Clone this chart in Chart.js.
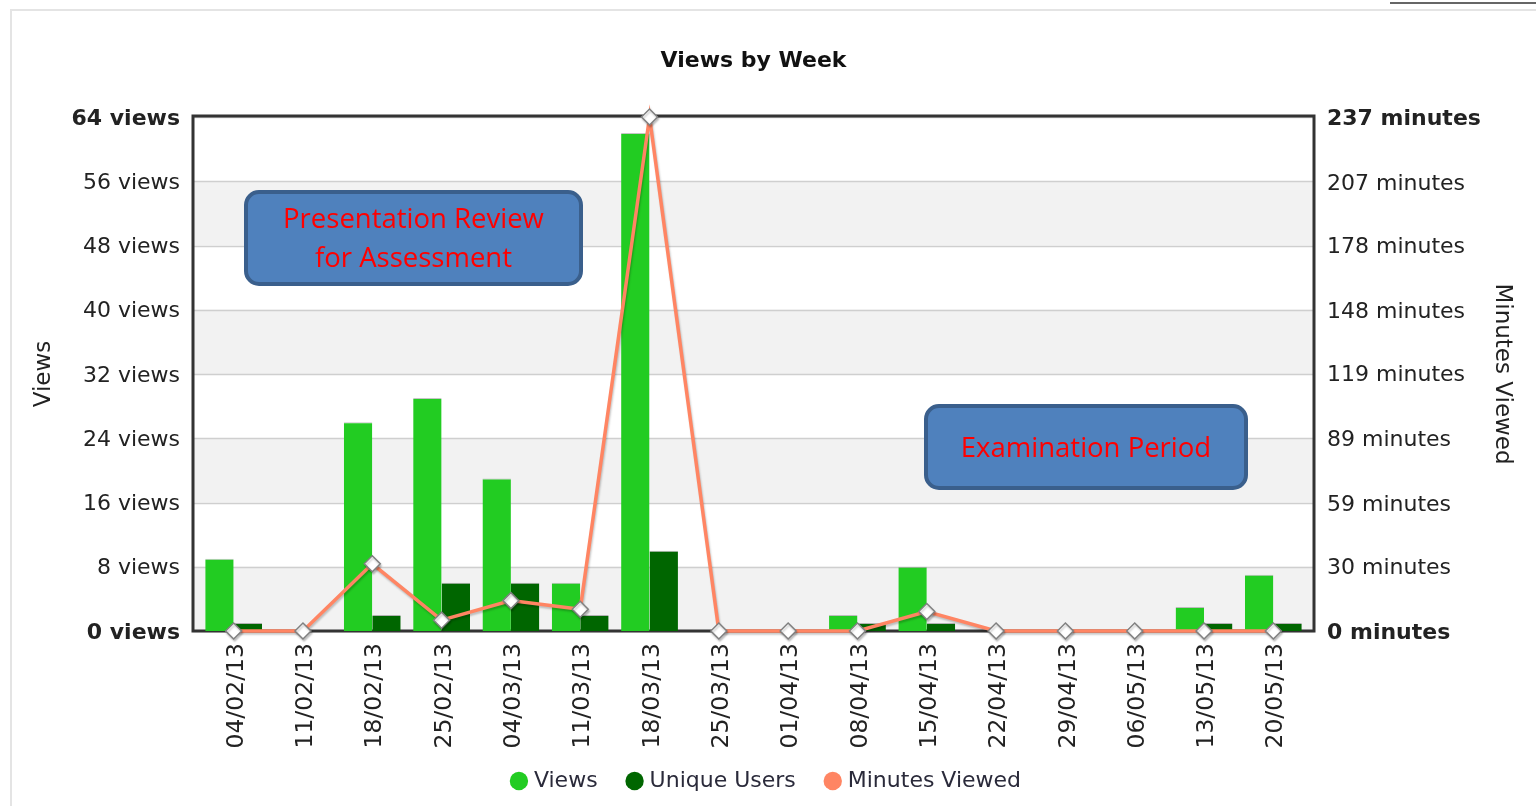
<!DOCTYPE html>
<html>
<head>
<meta charset="utf-8">
<script src="https://cdn.jsdelivr.net/npm/chart.js@4"></script>
<style>
  html, body { margin: 0; padding: 0; background: #fff; }
  #wrap { width: 1536px; height: 806px; }
</style>
</head>
<body>
<div id="wrap"><canvas id="chart"></canvas></div>
<script>
const weeks = ["04/02/13", "11/02/13", "18/02/13", "25/02/13", "04/03/13", "11/03/13", "18/03/13", "25/03/13",
               "01/04/13", "08/04/13", "15/04/13", "22/04/13", "29/04/13", "06/05/13", "13/05/13", "20/05/13"];
const views = [9, 0, 26, 29, 19, 6, 62, 0, 0, 2, 8, 0, 0, 0, 3, 7];
const uniqueUsers = [1, 0, 2, 6, 6, 2, 10, 0, 0, 1, 1, 0, 0, 0, 1, 1];
const minutesViewed = [0, 0, 31, 5, 14, 10, 237, 0, 0, 0, 9, 0, 0, 0, 0, 0];

const viewTicks = [0, 8, 16, 24, 32, 40, 48, 56, 64];
const minuteTicks = [0, 30, 59, 89, 119, 148, 178, 207, 237];

const notes = [
    { lines: ["Presentation Review", "for Assessment"], x: 246, y: 192, w: 335, h: 92 },
    { lines: ["Examination Period"], x: 926, y: 406, w: 320, h: 82 }
];

const FONT = "'DejaVu Sans', Verdana, sans-serif";
const legendColors = ["#22cc22", "#006600", "#ff8563"];

// first and last tick labels are bold
function edgeBold(ctx) {
    const bold = ctx.index === 0 || ctx.index === viewTicks.length - 1;
    return { family: FONT, size: 22, weight: bold ? "bold" : "normal" };
}

// bands, gridlines and the dark frame around the plot
const plotFrame = {
    id: "plotFrame",
    beforeDraw(chart) {
        const c = chart.ctx, a = chart.chartArea, y = chart.scales.y;
        const l = a.left - 6, r = a.right + 6;
        c.save();
        c.strokeStyle = "#e4e4e4";
        c.lineWidth = 2;
        c.beginPath();
        c.moveTo(11, 806); c.lineTo(11, 10); c.lineTo(1536, 10);
        c.stroke();
        c.strokeStyle = "#666";
        c.beginPath();
        c.moveTo(1390, 3); c.lineTo(1536, 3);
        c.stroke();
        for (let i = 0; i < viewTicks.length - 1; i++) {
            if (i % 2 === 0) {
                const y0 = y.getPixelForValue(viewTicks[i]);
                const y1 = y.getPixelForValue(viewTicks[i + 1]);
                c.fillStyle = "#f2f2f2";
                c.fillRect(l, y1, r - l, y0 - y1);
            }
        }
        c.strokeStyle = "#cfcfcf";
        c.lineWidth = 1.5;
        viewTicks.forEach(v => {
            const py = Math.round(y.getPixelForValue(v)) + 0.5;
            c.beginPath(); c.moveTo(l, py); c.lineTo(r, py); c.stroke();
        });
        c.restore();
    },
    beforeDatasetsDraw(chart) {
        const c = chart.ctx, a = chart.chartArea;
        c.save();
        c.strokeStyle = "#333";
        c.lineWidth = 3;
        c.strokeRect(a.left - 6, a.top - 1, a.right - a.left + 12, a.bottom - a.top + 1);
        c.restore();
    },
    beforeDatasetDraw(chart, args) {
        if (args.index === 2) {
            const c = chart.ctx;
            c.save();
            c.shadowColor = "rgba(0,0,0,0.22)";
            c.shadowOffsetX = 1;
            c.shadowOffsetY = 2;
            c.shadowBlur = 2;
        }
    },
    afterDatasetDraw(chart, args) {
        if (args.index === 2) chart.ctx.restore();
    },
    afterDraw(chart) {
        const c = chart.ctx;
        c.save();
        notes.forEach(n => {
            c.beginPath();
            c.roundRect(n.x, n.y, n.w, n.h, 13);
            c.fillStyle = "#4f81bd";
            c.fill();
            c.lineWidth = 4;
            c.strokeStyle = "#3a5f8c";
            c.stroke();
            c.fillStyle = "#ff0000";
            c.font = "27.5px 'Open Sans', sans-serif";
            c.textAlign = "center";
            c.textBaseline = "middle";
            const lh = 39;
            const cy = n.y + n.h / 2 + 2 - (n.lines.length - 1) * lh / 2;
            n.lines.forEach((t, i) => c.fillText(t, n.x + n.w / 2, cy + i * lh));
        });
        c.restore();
    }
};

new Chart(document.getElementById("chart"), {
    type: "bar",
    data: {
        labels: weeks,
        datasets: [
            {
                label: "Views",
                data: views,
                backgroundColor: "#22cc22",
                borderColor: "rgba(90,90,90,0.35)",
                borderWidth: { top: 1, right: 0, left: 0, bottom: 0 },
                borderSkipped: "bottom",
                categoryPercentage: 0.82,
                barPercentage: 1.0,
                yAxisID: "y"
            },
            {
                label: "Unique Users",
                data: uniqueUsers,
                backgroundColor: "#006600",
                borderColor: "rgba(60,60,60,0.35)",
                borderWidth: { top: 1, right: 0, left: 0, bottom: 0 },
                borderSkipped: "bottom",
                categoryPercentage: 0.82,
                barPercentage: 1.0,
                yAxisID: "y"
            },
            {
                type: "line",
                label: "Minutes Viewed",
                data: minutesViewed,
                yAxisID: "y1",
                order: -1,
                borderColor: "#ff8563",
                backgroundColor: "#ff8563",
                borderWidth: 3.5,
                tension: 0,
                pointStyle: "rectRot",
                pointRadius: 8,
                pointHoverRadius: 8,
                pointBackgroundColor: "#ffffff",
                pointBorderColor: "#808080",
                pointBorderWidth: 1.5,
                clip: false
            }
        ]
    },
    options: {
        responsive: true,
        maintainAspectRatio: false,
        animation: false,
        layout: { padding: { left: 0, right: 0, top: 0, bottom: 4 } },
        plugins: {
            title: {
                display: true,
                text: "Views by Week",
                fullSize: false,
                color: "#111",
                font: { family: FONT, size: 22, weight: "bold" },
                padding: { top: 48, bottom: 42.6 }
            },
            legend: {
                position: "bottom",
                labels: {
                    color: "#2a2a3a",
                    font: { family: FONT, size: 22 },
                    usePointStyle: true,
                    boxWidth: 8,
                    boxHeight: 13,
                    padding: 19,
                    sort: (a, b) => a.datasetIndex - b.datasetIndex,
                    generateLabels(chart) {
                        return Chart.defaults.plugins.legend.labels.generateLabels(chart).map(item => {
                            item.pointStyle = "circle";
                            item.fillStyle = legendColors[item.datasetIndex];
                            item.strokeStyle = legendColors[item.datasetIndex];
                            item.lineWidth = 0;
                            // two trailing spaces widen the gap between items
                            if (item.datasetIndex < 2) item.text = item.text + "  ";
                            return item;
                        });
                    }
                }
            },
            tooltip: { enabled: false }
        },
        scales: {
            x: {
                grid: { display: false, drawTicks: false },
                border: { display: false },
                ticks: {
                    color: "#222",
                    font: { family: FONT, size: 23.5 },
                    minRotation: 90,
                    maxRotation: 90,
                    padding: 12,
                    labelOffset: 3,
                    autoSkip: false
                },
                afterFit(scale) { scale.height = 120; }
            },
            y: {
                position: "left",
                min: 0,
                max: 64,
                grid: { display: false, drawTicks: false },
                border: { display: false },
                afterBuildTicks(scale) { scale.ticks = viewTicks.map(v => ({ value: v })); },
                ticks: {
                    color: "#222",
                    padding: 19,
                    labelOffset: 2,
                    font: edgeBold,
                    callback: v => v + " views"
                },
                title: {
                    display: true,
                    text: "Views",
                    color: "#222",
                    font: { family: FONT, size: 23 },
                    padding: { top: 30, bottom: 0 }
                },
                afterFit(scale) { scale.width = 199; }
            },
            y1: {
                position: "right",
                min: 0,
                max: 237,
                grid: { display: false, drawTicks: false },
                border: { display: false },
                afterBuildTicks(scale) { scale.ticks = minuteTicks.map(v => ({ value: v })); },
                ticks: {
                    color: "#222",
                    padding: 19,
                    labelOffset: 2,
                    font: edgeBold,
                    callback: v => v + " minutes"
                },
                title: {
                    display: true,
                    text: "Minutes Viewed",
                    color: "#222",
                    font: { family: FONT, size: 23 },
                    padding: { top: 20, bottom: 0 }
                },
                afterFit(scale) { scale.width = 228; }
            }
        }
    },
    plugins: [plotFrame]
});
</script>
</body>
</html>
